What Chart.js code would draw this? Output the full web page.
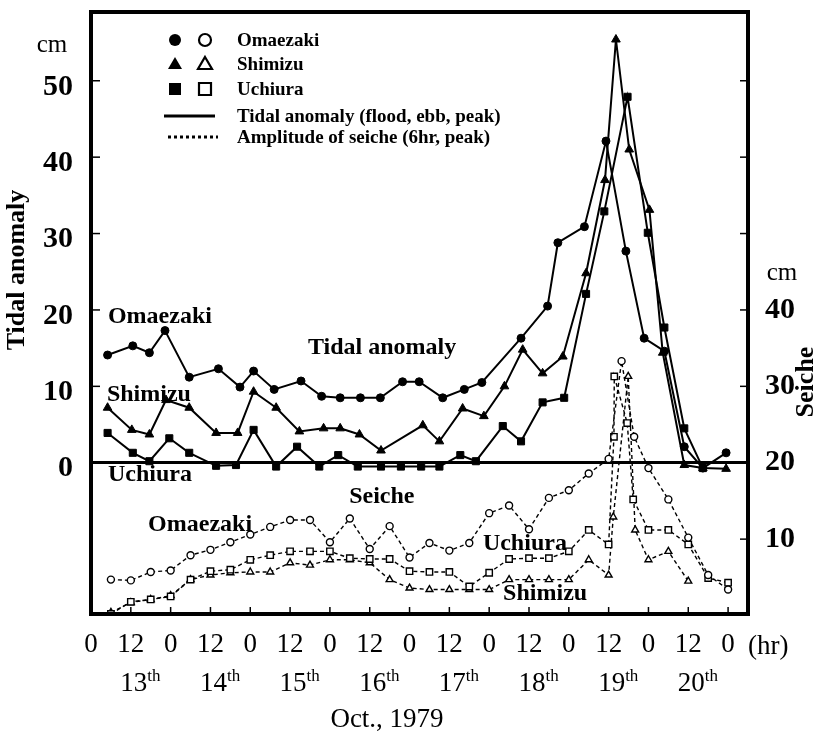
<!DOCTYPE html>
<html>
<head>
<meta charset="utf-8">
<script src="https://cdn.jsdelivr.net/npm/chart.js@4.4.1/dist/chart.umd.min.js"></script>
<style>
  html, body { margin: 0; padding: 0; background: #fff; }
  #wrap { width: 818px; height: 735px; }
</style>
</head>
<body>
<div id="wrap"><canvas id="c" width="818" height="735"></canvas></div>
<script>
// ---- x axis (hours from 13 Oct 0h) ----
const hourTicks = [0,12,24,36,48,60,72,84,96,108,120,132,144,156,168,180,192];
const hourLabels = ['0','12','0','12','0','12','0','12','0','12','0','12','0','12','0','12','0'];
const dayNoon = [12,36,60,84,108,132,156,180];
const dayLabels = ['13','14','15','16','17','18','19','20'];
const tideTicks = [0,10,20,30,40,50];
const seicheTicks = [10,20,30,40];
const seicheMarks = [10,20,30,40,50,60,70];

// ---- Tidal anomaly (cm, left axis) ----
const omaeTideH = [5.0,12.6,17.6,22.3,29.6,38.4,44.9,49.0,55.2,63.3,69.5,75.1,81.2,87.2,93.9,98.9,106.0,112.5,117.8,129.6,137.6,140.7,148.7,155.2,161.2,166.7,172.8,178.8,184.4,191.4];
const omaeTideV = [14.1,15.3,14.4,17.3,11.2,12.3,9.9,12.0,9.6,10.7,8.7,8.5,8.5,8.5,10.6,10.6,8.5,9.6,10.5,16.3,20.5,28.8,30.9,42.1,27.7,16.3,14.6,2.1,-0.7,1.3];
const shimTideH = [5.0,12.3,17.6,22.6,29.6,37.7,44.2,49.0,55.8,62.8,70.1,75.1,80.9,87.4,100.0,105.0,112.0,118.4,124.6,130.1,136.1,142.2,149.2,154.9,158.2,162.2,168.3,172.3,178.8,184.4,191.4];
const shimTideV = [7.2,4.3,3.7,8.2,7.2,3.9,3.9,9.3,7.2,4.1,4.5,4.5,3.7,1.6,4.9,2.8,7.1,6.1,10.0,14.8,11.7,13.9,24.8,37.0,55.4,41.0,33.1,14.4,-0.3,-0.7,-0.8];
const uchiTideH = [5.0,12.6,17.6,23.6,29.6,37.7,43.7,49.0,55.8,62.1,68.8,74.5,80.4,87.4,93.4,99.5,105.0,111.3,116.0,124.1,129.6,136.1,142.6,149.2,154.7,161.7,167.8,172.8,178.8,184.4];
const uchiTideV = [3.9,1.3,0.2,3.2,1.3,-0.4,-0.3,4.3,-0.5,2.1,-0.5,1.0,-0.5,-0.5,-0.5,-0.5,-0.5,1.0,0.2,4.8,2.8,7.9,8.5,22.1,32.9,47.9,30.1,17.7,4.5,-0.7];

// ---- Amplitude of seiche (cm, right axis) ----
const omaeSeiH = [6,12,18,24,30,36,42,48,54,60,66,72,78,84,90,96,102,108,114,120,126,132,138,144,150,156,159.9,163.7,168,174,180,186,192];
const omaeSeiV = [4.7,4.6,5.7,5.9,7.9,8.6,9.6,10.6,11.6,12.5,12.5,9.6,12.7,8.7,11.7,7.6,9.5,8.5,9.5,13.4,14.4,11.3,15.4,16.4,18.6,20.5,33.3,23.4,19.3,15.2,10.2,5.3,3.4];
const uchiSeiH = [6,12,18,24,30,36,42,48,54,60,66,72,78,84,90,96,102,108,114,120,126,132,138,144,150,156,157.6,157.7,161.6,163.4,168,174,180,186,192];
const uchiSeiV = [0.2,1.8,2.1,2.5,4.7,5.8,6.0,7.3,7.9,8.4,8.4,8.4,7.5,7.4,7.4,5.8,5.7,5.7,3.8,5.6,7.4,7.5,7.5,8.4,11.2,9.3,23.4,31.3,25.2,15.2,11.2,11.2,9.3,4.9,4.3];
const shimSeiH = [6,12,18,24,30,36,42,48,54,60,66,72,78,84,90,96,102,108,114,120,126,132,138,144,150,156,157.4,161.9,164.0,168,174,180];
const shimSeiV = [0.4,1.7,2.1,2.6,4.7,5.3,5.6,5.7,5.7,6.9,6.6,7.3,7.3,6.9,4.7,3.6,3.4,3.4,3.4,3.4,4.7,4.7,4.7,4.7,7.3,5.3,12.9,31.3,11.2,7.3,8.4,4.5];

const pts = (h, v) => h.map((x, i) => ({ x, y: v[i] }));
const SERIF = 'Liberation Serif';

function tideSet(label, h, v, style, r) {
  return { label, data: pts(h, v), yAxisID: 'y', borderColor: '#000', borderWidth: 2,
    pointStyle: style, pointRadius: r, pointBackgroundColor: '#000', pointBorderColor: '#000',
    pointBorderWidth: 1, tension: 0, fill: false };
}
function seiSet(label, h, v, style, r) {
  return { label, data: pts(h, v), yAxisID: 'y2', borderColor: '#000', borderWidth: 1.4,
    borderDash: [4, 3], pointStyle: style, pointRadius: r, pointBackgroundColor: '#fff',
    pointBorderColor: '#000', pointBorderWidth: 1.4, tension: 0, fill: false };
}

// ---- text annotations placed in data coordinates (x: hours, y: left axis cm) ----
const notes = [
  { t: 'Omaezaki', x: 5.1, y: 19.1 },
  { t: 'Shimizu', x: 4.8, y: 8.9 },
  { t: 'Uchiura', x: 5.1, y: -1.6 },
  { t: 'Tidal anomaly', x: 65.4, y: 15.0 },
  { t: 'Seiche', x: 77.8, y: -4.5 },
  { t: 'Omaezaki', x: 17.2, y: -8.1 },
  { t: 'Uchiura', x: 118.1, y: -10.6 },
  { t: 'Shimizu', x: 124.2, y: -17.2 }
];
const legendRows = [
  { kind: 'circle', t: 'Omaezaki' },
  { kind: 'triangle', t: 'Shimizu' },
  { kind: 'rect', t: 'Uchiura' },
  { kind: 'solid', t: 'Tidal anomaly (flood, ebb, peak)' },
  { kind: 'dotted', t: 'Amplitude of seiche (6hr, peak)' }
];

function drawMarker(ctx, kind, x, y, filled) {
  ctx.beginPath();
  if (kind === 'circle') ctx.arc(x, y, 6, 0, Math.PI * 2);
  else if (kind === 'triangle') { ctx.moveTo(x, y - 7); ctx.lineTo(x + 7, y + 5); ctx.lineTo(x - 7, y + 5); ctx.closePath(); }
  else ctx.rect(x - 6, y - 6, 12, 12);
  if (filled) { ctx.fillStyle = '#000'; ctx.fill(); }
  else { ctx.lineWidth = 2.2; ctx.strokeStyle = '#000'; ctx.stroke(); }
}

const decor = {
  id: 'decor',
  afterDraw(chart) {
    const { ctx, chartArea: a, scales } = chart;
    const sx = scales.x, sy = scales.y, sy2 = scales.y2;
    ctx.save();
    ctx.fillStyle = '#000'; ctx.strokeStyle = '#000';
    // frame
    ctx.lineWidth = 4;
    ctx.strokeRect(a.left, a.top, a.right - a.left, a.bottom - a.top);
    // inward tick marks
    ctx.lineWidth = 1.5;
    hourTicks.forEach(v => { const px = sx.getPixelForValue(v); ctx.beginPath(); ctx.moveTo(px, a.bottom); ctx.lineTo(px, a.bottom - 7); ctx.stroke(); });
    tideTicks.forEach(v => { const py = sy.getPixelForValue(v); ctx.beginPath(); ctx.moveTo(a.left, py); ctx.lineTo(a.left + 9, py); ctx.stroke(); });
    seicheMarks.forEach(v => { const py = sy2.getPixelForValue(v); ctx.beginPath(); ctx.moveTo(a.right, py); ctx.lineTo(a.right - 8, py); ctx.stroke(); });

    // legend
    const lx1 = a.left + 84, lx2 = a.left + 114, tx = a.left + 146;
    const rowsY = [28, 52, 77, 104, 125].map(d => a.top + d);
    ctx.font = 'bold 19px ' + SERIF; ctx.textBaseline = 'middle'; ctx.textAlign = 'left';
    legendRows.forEach((r, i) => {
      const y = rowsY[i];
      if (r.kind === 'solid') { ctx.lineWidth = 3; ctx.setLineDash([]); ctx.beginPath(); ctx.moveTo(a.left + 73, y); ctx.lineTo(a.left + 124, y); ctx.stroke(); }
      else if (r.kind === 'dotted') { ctx.lineWidth = 3; ctx.setLineDash([3, 3]); ctx.beginPath(); ctx.moveTo(a.left + 77, y); ctx.lineTo(a.left + 127, y); ctx.stroke(); ctx.setLineDash([]); }
      else { drawMarker(ctx, r.kind, lx1, y, true); drawMarker(ctx, r.kind, lx2, y, false); }
      ctx.fillStyle = '#000';
      ctx.fillText(r.t, tx, y + 1);
    });

    // in-plot labels
    ctx.font = 'bold 24px ' + SERIF;
    notes.forEach(n => ctx.fillText(n.t, sx.getPixelForValue(n.x), sy.getPixelForValue(n.y)));

    // units and axis titles
    ctx.font = '25px ' + SERIF; ctx.textAlign = 'center';
    ctx.fillText('cm', 52, 45);
    ctx.fillText('cm', 782, 273);
    ctx.font = 'bold 26px ' + SERIF;
    ctx.save(); ctx.translate(17, 270); ctx.rotate(-Math.PI / 2); ctx.fillText('Tidal anomaly', 0, 0); ctx.restore();
    ctx.save(); ctx.translate(806, 382); ctx.rotate(-Math.PI / 2); ctx.fillText('Seiche', 0, 0); ctx.restore();

    // bottom rows
    ctx.font = '27px ' + SERIF; ctx.textAlign = 'left';
    ctx.fillText('(hr)', sx.getPixelForValue(192) + 20, 647);
    dayNoon.forEach((h, i) => {
      const cx = sx.getPixelForValue(h) + 3;
      ctx.font = '27px ' + SERIF; ctx.textAlign = 'center';
      ctx.fillText(dayLabels[i], cx, 684);
      const w = ctx.measureText(dayLabels[i]).width;
      ctx.font = '17px ' + SERIF; ctx.textAlign = 'left';
      ctx.fillText('th', cx + w / 2, 677);
    });
    ctx.font = '27px ' + SERIF; ctx.textAlign = 'center';
    ctx.fillText('Oct., 1979', 387, 720);
    ctx.restore();
  }
};

function noPad(s) { s.paddingTop = 0; s.paddingBottom = 0; s.paddingLeft = 0; s.paddingRight = 0; }

new Chart(document.getElementById('c'), {
  type: 'line',
  data: {
    datasets: [
      seiSet('Omaezaki seiche', omaeSeiH, omaeSeiV, 'circle', 3.5),
      seiSet('Uchiura seiche', uchiSeiH, uchiSeiV, 'rect', 4.5),
      seiSet('Shimizu seiche', shimSeiH, shimSeiV, 'triangle', 4),
      tideSet('Omaezaki', omaeTideH, omaeTideV, 'circle', 4),
      tideSet('Shimizu', shimTideH, shimTideV, 'triangle', 5),
      tideSet('Uchiura', uchiTideH, uchiTideV, 'rect', 5)
    ]
  },
  options: {
    responsive: false,
    animation: false,
    layout: { padding: { top: 12, left: 0, right: 0, bottom: 0 } },
    plugins: { legend: { display: false }, tooltip: { enabled: false }, title: { display: false } },
    scales: {
      x: {
        type: 'linear', min: 0, max: 198,
        afterBuildTicks: s => { s.ticks = hourTicks.map(v => ({ value: v })); },
        afterFit: s => { s.height = 121; noPad(s); },
        ticks: { callback: (v, i) => hourLabels[i], font: { family: SERIF, size: 27 }, color: '#000', padding: 15, maxRotation: 0, autoSkip: false },
        grid: { display: false, drawTicks: false },
        border: { display: false }
      },
      y: {
        type: 'linear', position: 'left', min: -19.8, max: 59,
        afterBuildTicks: s => { s.ticks = tideTicks.map(v => ({ value: v })); },
        afterFit: s => { s.width = 91; noPad(s); },
        ticks: { font: { family: SERIF, size: 30, weight: 'bold' }, color: '#000', padding: 18, labelOffset: 6 },
        grid: { color: c => (c.tick && c.tick.value === 0 ? '#000' : 'rgba(0,0,0,0)'), lineWidth: 3, drawTicks: false },
        border: { display: false }
      },
      y2: {
        type: 'linear', position: 'right', min: 0.2, max: 79,
        afterBuildTicks: s => { s.ticks = seicheTicks.map(v => ({ value: v })); },
        afterFit: s => { s.width = 70; noPad(s); },
        ticks: { font: { family: SERIF, size: 30, weight: 'bold' }, color: '#000', padding: 17 },
        grid: { display: false, drawTicks: false },
        border: { display: false }
      }
    }
  },
  plugins: [decor]
});
</script>
</body>
</html>
